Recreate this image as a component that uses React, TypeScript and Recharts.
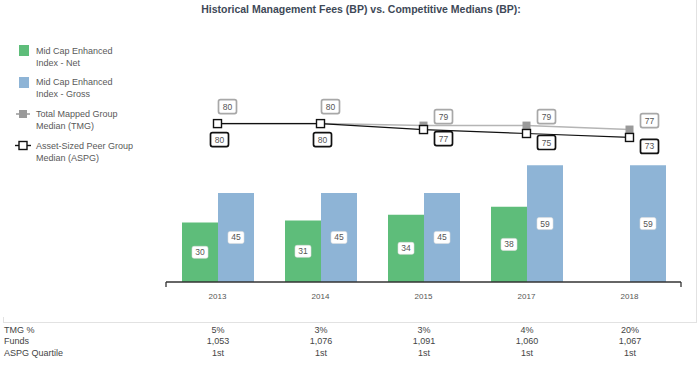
import React from 'react';
import { ComposedChart, Bar, Line, XAxis, YAxis, LabelList } from 'recharts';

const categories = ['2013', '2014', '2015', '2017', '2018'];
const netValues: (number | null)[] = [30, 31, 34, 38, null];
const grossValues = [45, 45, 45, 59, 59];
const tmgValues = [80, 80, 79, 79, 77];
const aspgValues = [80, 80, 77, 75, 73];
const tmgPct = ['5%', '3%', '3%', '4%', '20%'];
const funds = ['1,053', '1,076', '1,091', '1,060', '1,067'];
const quartiles = ['1st', '1st', '1st', '1st', '1st'];

const data = categories.map((c, i) => ({
  year: c,
  net: netValues[i],
  gross: grossValues[i],
  tmg: tmgValues[i],
  aspg: aspgValues[i],
}));

const FONT = '"Liberation Sans", Arial, Helvetica, sans-serif';
const GREEN = '#5ebd7a';
const BLUE = '#8eb4d6';
const TEXT = '#555';

const BarLabel = (props: any) => {
  const { x, y, width, height, value } = props;
  if (value == null) return null;
  const cx = Number(x) + Number(width) / 2;
  const cy = Number(y) + Number(height) / 2;
  return (
    <g>
      <rect x={cx - 8} y={cy - 6} width={16} height={12} rx={2} fill="#fff" stroke="#ddd" strokeWidth={0.6} />
      <text x={cx} y={cy + 3} textAnchor="middle" fontSize={8.5} fill={TEXT} fontFamily={FONT}>{value}</text>
    </g>
  );
};

const makeLineLabel = (kind: 'tmg' | 'aspg') => (props: any) => {
  const { x, y, value, index } = props;
  const same = tmgValues[index] === aspgValues[index];
  let dx: number, dy: number;
  if (kind === 'tmg') {
    dx = same ? 10 : 20;
    dy = same ? -17 : -9;
  } else {
    dx = same ? 2 : 20;
    dy = same ? 16 : 9;
  }
  const cx = Number(x) + dx;
  const cy = Number(y) + dy;
  const stroke = kind === 'tmg' ? '#a8a8a8' : '#111';
  return (
    <g>
      <rect x={cx - 9} y={cy - 7} width={18} height={14} rx={2} fill="#fff" stroke={stroke} strokeWidth={1.7} />
      <text x={cx} y={cy + 3} textAnchor="middle" fontSize={8.5} fill={TEXT} fontFamily={FONT}>{value}</text>
    </g>
  );
};

const TmgDot = (props: any) => {
  const { cx, cy, index } = props;
  return <rect key={'t' + index} x={cx - 4} y={cy - 4} width={8} height={8} fill="#9a9a9a" />;
};

const AspgDot = (props: any) => {
  const { cx, cy, index } = props;
  return <rect key={'a' + index} x={cx - 4} y={cy - 4} width={8} height={8} fill="#fff" stroke="#111" strokeWidth={1.4} />;
};

const XTick = (props: any) => {
  const { x, y, payload, index } = props;
  const half = payload && payload.offset ? payload.offset : 51.5;
  const axisY = Number(y) - 8;
  return (
    <g>
      {index === 0 && <line x1={x - half} x2={x - half} y1={axisY} y2={axisY + 5} stroke="#333" strokeWidth={1.3} />}
      {index === categories.length - 1 && (
        <line x1={x + half} x2={x + half} y1={axisY} y2={axisY + 5} stroke="#333" strokeWidth={1.3} />
      )}
      <text x={x} y={axisY + 17} textAnchor="middle" fontSize={8} fill={TEXT} fontFamily={FONT}>
        {payload.value}
      </text>
    </g>
  );
};

const legendLine: React.CSSProperties = {
  position: 'absolute',
  left: 36,
  fontSize: 9,
  lineHeight: '12px',
  color: '#595959',
  whiteSpace: 'nowrap',
};

export default function App() {
  const colX = (i: number) => 218 + i * 103;
  const rows = [
    { label: 'TMG %', vals: tmgPct, top: 324.5 },
    { label: 'Funds', vals: funds, top: 336 },
    { label: 'ASPG Quartile', vals: quartiles, top: 347.5 },
  ];
  return (
    <div style={{ position: 'absolute', left: 0, top: 0, width: 699, height: 366, background: '#fff', fontFamily: FONT, overflow: 'hidden' }}>
      {/* frame */}
      <div style={{ position: 'absolute', left: 3, top: -2, width: 693, height: 324, borderRight: '1px solid #e2e2e2', borderBottom: '1px solid #e2e2e2' }} />
      <div style={{ position: 'absolute', left: 3, top: 317, width: 1, height: 6, background: '#e2e2e2' }} />

      {/* title */}
      <div style={{ position: 'absolute', left: 0, top: 3, width: 722, textAlign: 'center', fontSize: 10.5, lineHeight: '12px', fontWeight: 'bold', color: '#3e4957' }}>
        Historical Management Fees (BP) vs. Competitive Medians (BP):
      </div>

      {/* legend */}
      <div style={{ position: 'absolute', left: 19, top: 45, width: 10, height: 11, background: GREEN }} />
      <div style={{ ...legendLine, top: 45 }}>Mid Cap Enhanced</div>
      <div style={{ ...legendLine, top: 57 }}>Index - Net</div>

      <div style={{ position: 'absolute', left: 19, top: 77, width: 10, height: 10.5, background: BLUE }} />
      <div style={{ ...legendLine, top: 76 }}>Mid Cap Enhanced</div>
      <div style={{ ...legendLine, top: 88 }}>Index - Gross</div>

      <svg style={{ position: 'absolute', left: 0, top: 0 }} width={40} height={170}>
        <line x1={16} x2={30} y1={114} y2={114} stroke="#999" strokeWidth={1.5} />
        <rect x={19} y={110} width={8} height={8} fill="#9a9a9a" />
        <line x1={15} x2={31} y1={145.5} y2={145.5} stroke="#111" strokeWidth={1.4} />
        <rect x={19} y={141.5} width={8} height={8} fill="#fff" stroke="#111" strokeWidth={1.4} />
      </svg>
      <div style={{ ...legendLine, top: 108 }}>Total Mapped Group</div>
      <div style={{ ...legendLine, top: 120 }}>Median (TMG)</div>
      <div style={{ ...legendLine, top: 139.5 }}>Asset-Sized Peer Group</div>
      <div style={{ ...legendLine, top: 151.5 }}>Median (ASPG)</div>

      {/* chart */}
      <div style={{ position: 'absolute', left: 0, top: 0 }}>
        <ComposedChart
          width={699}
          height={366}
          data={data}
          margin={{ top: 84, right: 18, left: 166, bottom: 54 }}
          barCategoryGap={16}
          barGap={0}
        >
          <XAxis
            dataKey="year"
            height={30}
            axisLine={{ stroke: '#333', strokeWidth: 1.5 }}
            tickLine={false}
            tick={<XTick />}
            interval={0}
          />
          <YAxis hide domain={[0, 100]} />
          <Bar dataKey="net" fill={GREEN} isAnimationActive={false}>
            <LabelList dataKey="net" content={<BarLabel />} />
          </Bar>
          <Bar dataKey="gross" fill={BLUE} isAnimationActive={false}>
            <LabelList dataKey="gross" content={<BarLabel />} />
          </Bar>
          <Line
            dataKey="tmg"
            stroke="#b5b5b5"
            strokeWidth={1.5}
            dot={<TmgDot />}
            activeDot={false}
            isAnimationActive={false}
          >
            <LabelList dataKey="tmg" content={makeLineLabel('tmg')} />
          </Line>
          <Line
            dataKey="aspg"
            stroke="#111"
            strokeWidth={1.2}
            dot={<AspgDot />}
            activeDot={false}
            isAnimationActive={false}
          >
            <LabelList dataKey="aspg" content={makeLineLabel('aspg')} />
          </Line>
        </ComposedChart>
      </div>

      {/* table */}
      {rows.map((r) => (
        <React.Fragment key={r.label}>
          <div style={{ position: 'absolute', left: 4, top: r.top, fontSize: 9, lineHeight: '11px', color: '#444', whiteSpace: 'nowrap' }}>{r.label}</div>
          {r.vals.map((v, i) => (
            <div key={i} style={{ position: 'absolute', left: colX(i) - 30, width: 60, textAlign: 'center', top: r.top, fontSize: 9, lineHeight: '11px', color: '#444' }}>{v}</div>
          ))}
        </React.Fragment>
      ))}
    </div>
  );
}
